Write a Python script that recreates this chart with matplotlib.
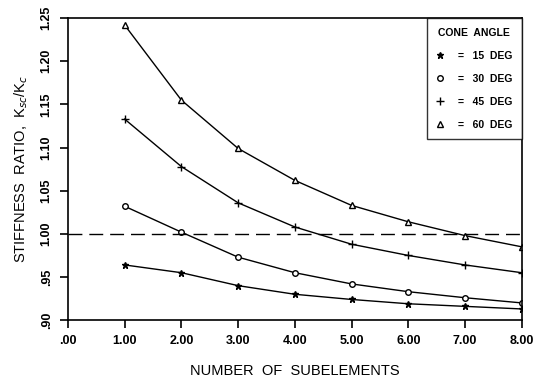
import matplotlib
matplotlib.use("Agg")
import matplotlib.pyplot as plt

plt.rcParams['font.family'] = ['Liberation Sans', 'DejaVu Sans']

subelements = [1, 2, 3, 4, 5, 6, 7, 8]
ratio_15 = [0.964, 0.955, 0.940, 0.930, 0.924, 0.919, 0.916, 0.913]
ratio_30 = [1.032, 1.002, 0.973, 0.955, 0.942, 0.933, 0.926, 0.920]
ratio_45 = [1.133, 1.078, 1.036, 1.008, 0.988, 0.975, 0.964, 0.955]
ratio_60 = [1.242, 1.155, 1.099, 1.062, 1.033, 1.014, 0.998, 0.985]

xticks = [0, 1, 2, 3, 4, 5, 6, 7, 8]
xlabels = [".00", "1.00", "2.00", "3.00", "4.00", "5.00", "6.00", "7.00", "8.00"]
yticks = [0.90, 0.95, 1.00, 1.05, 1.10, 1.15, 1.20, 1.25]
ylabels = [".90", ".95", "1.00", "1.05", "1.10", "1.15", "1.20", "1.25"]

fig = plt.figure(figsize=(5.39, 3.78), dpi=100)
ax = fig.add_axes([0.126, 0.153, 0.842, 0.799])

ax.plot(subelements, ratio_15, color='black', lw=1, marker='*', ms=5, label='=   15  DEG')
ax.plot(subelements, ratio_30, color='black', lw=1, marker='o', ms=4, mfc='white', label='=   30  DEG')
ax.plot(subelements, ratio_45, color='black', lw=1, marker='+', ms=6, label='=   45  DEG')
ax.plot(subelements, ratio_60, color='black', lw=1, marker='^', ms=4, mfc='white', label='=   60  DEG')
ax.axhline(1.0, color='black', lw=1, dashes=(10, 5))

ax.set_xlim(0, 8)
ax.set_ylim(0.90, 1.25)
ax.set_xticks(xticks)
ax.set_xticklabels(xlabels, fontsize=9, fontweight='bold')
ax.set_yticks(yticks)
ax.set_yticklabels(ylabels, fontsize=9, fontweight='bold', rotation=90, va='center')
ax.tick_params(direction='out', length=6, width=1.2, pad=5)

ax.set_xlabel("NUMBER  OF  SUBELEMENTS", fontsize=10.5, labelpad=12)
ax.set_ylabel(r"STIFFNESS  RATIO,  K$_{sc}$/K$_{c}$", fontsize=10.5, labelpad=8)

for s in ax.spines.values():
    s.set_linewidth(1.2)

leg = ax.legend(title="CONE  ANGLE", loc='upper right', fontsize=7.5,
                title_fontsize=7.5, frameon=True, fancybox=False,
                edgecolor='black', borderaxespad=0, handlelength=0.8,
                handletextpad=1.3, labelspacing=1.25, borderpad=0.9)
leg.get_frame().set_linewidth(1.0)
leg.get_title().set_fontweight('bold')
for h in leg.legend_handles:
    h.set_linestyle('none')
for t in leg.get_texts():
    t.set_fontweight('bold')

fig.savefig("out.png", dpi=100)
